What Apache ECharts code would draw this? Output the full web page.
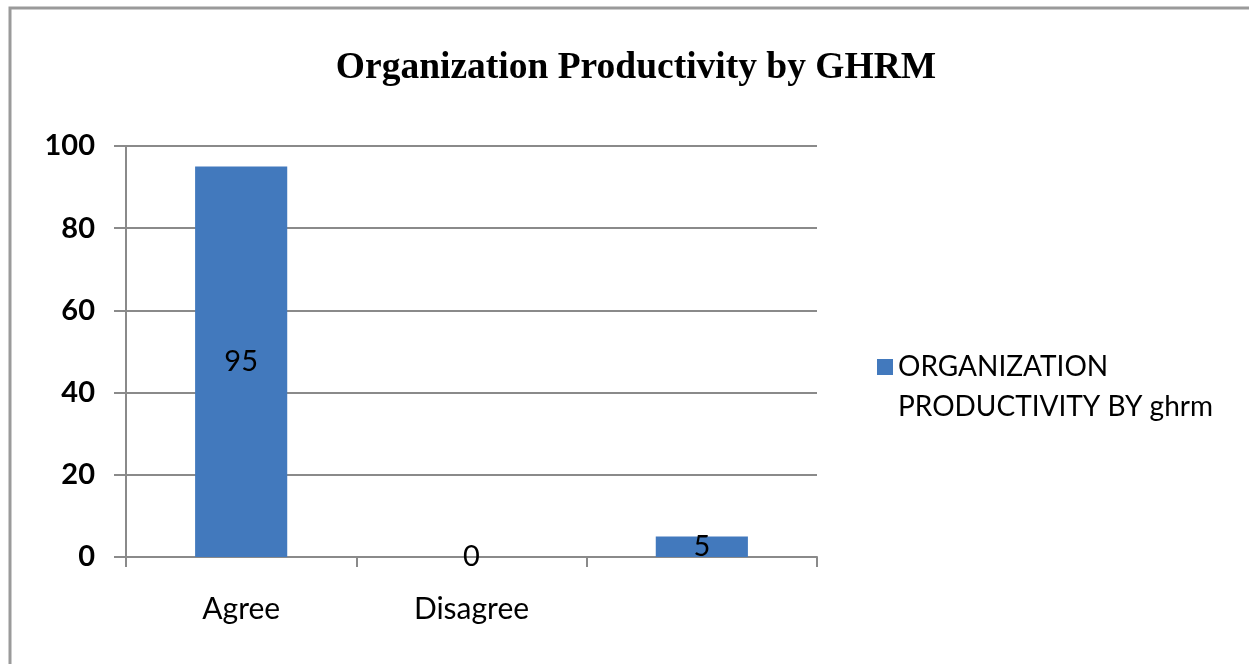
<!DOCTYPE html>
<html>
<head>
<meta charset="utf-8">
<script src="https://cdn.jsdelivr.net/npm/echarts@6/dist/echarts.min.js"></script>
<style>
  html, body { margin: 0; padding: 0; background: #fff; }
  #chart { width: 1249px; height: 664px; }
</style>
</head>
<body>
<div id="chart"></div>
<script>
const categories = ['Agree', 'Disagree', ''];
const values = [95, 0, 5];
const seriesName = 'ORGANIZATION PRODUCTIVITY BY ghrm';
const yTicks = { min: 0, max: 100, interval: 20 };

const axisGray = '#8a8a8a';
const barBlue = '#4279BD';

const chart = echarts.init(document.getElementById('chart'), null, { renderer: 'canvas' });

chart.setOption({
  backgroundColor: '#fff',
  animation: false,
  title: {
    text: 'Organization Productivity by GHRM',
    left: 631,
    textAlign: 'center',
    top: 44,
    textStyle: {
      fontFamily: 'Liberation Serif',
      fontWeight: 'bold',
      fontSize: 37.5,
      color: '#000'
    }
  },
  graphic: [
    {
      // outer chart frame, runs off the right and bottom edges
      type: 'rect',
      left: 7.5,
      top: 5.5,
      shape: { width: 1300, height: 720 },
      style: { fill: 'none', stroke: '#9a9a9a', lineWidth: 3 },
      silent: true
    }
  ],
  legend: {
    left: 872,
    top: 342,
    itemWidth: 16,
    itemHeight: 56,
    itemGap: 8,
    // square at the top so it lines up with the first text line
    icon: 'path://M0,0L16,0L16,16L0,16Z M0,56L0.01,56L0.01,56.01Z',
    formatter: (name) => name.replace(' PRODUCTIVITY', '\nPRODUCTIVITY'),
    textStyle: {
      fontFamily: 'Lato',
      fontSize: 28,
      color: '#000',
      lineHeight: 40
    }
  },
  grid: { left: 126, right: 432, top: 146, bottom: 107 },
  xAxis: {
    type: 'category',
    data: categories,
    boundaryGap: true,
    axisLine: { show: true, lineStyle: { color: axisGray, width: 2 } },
    axisTick: { show: true, length: 10, inside: false, lineStyle: { color: axisGray, width: 2 } },
    axisLabel: {
      margin: 37,
      fontFamily: 'Lato',
      fontSize: 30,
      color: '#000'
    },
    splitLine: { show: false }
  },
  yAxis: {
    type: 'value',
    min: yTicks.min,
    max: yTicks.max,
    interval: yTicks.interval,
    axisLine: { show: true, lineStyle: { color: axisGray, width: 2 } },
    axisTick: { show: true, length: 12, inside: false, lineStyle: { color: axisGray, width: 2 } },
    axisLabel: {
      margin: 31,
      fontFamily: 'Lato',
      fontWeight: 'bold',
      fontSize: 29,
      color: '#000'
    },
    splitLine: { show: true, lineStyle: { color: axisGray, width: 2 } }
  },
  series: [
    {
      name: seriesName,
      type: 'bar',
      data: values,
      barWidth: '40%',
      itemStyle: { color: barBlue },
      label: {
        show: true,
        position: 'inside',
        fontFamily: 'Lato',
        fontSize: 29,
        color: '#000'
      }
    }
  ]
});
</script>
</body>
</html>
